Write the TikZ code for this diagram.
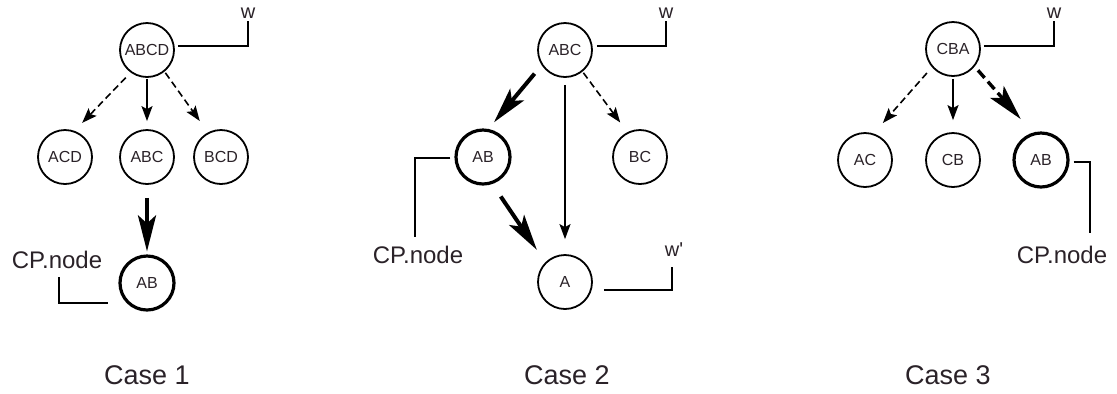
\documentclass[tikz,border=0pt]{standalone}
\usepackage{fontspec}
\setmainfont{Liberation Sans}
\usetikzlibrary{arrows.meta,positioning,calc}
\definecolor{ink}{HTML}{2A2228}

\begin{document}
\begin{tikzpicture}[x=0.5pt,y=-0.5pt,
    >=Stealth,
    vtx/.style={circle,draw,line width=0.9pt,minimum size=27pt,inner sep=0pt,font=\fontsize{8}{9}\selectfont,text=ink},
    vtxb/.style={vtx,line width=1.6pt},
    lbl/.style={inner sep=1pt,text=ink,font=\fontsize{12}{14}\selectfont},
    wlbl/.style={inner sep=1pt,text=ink,font=\fontsize{10}{12}\selectfont},
    caselbl/.style={inner sep=1pt,text=ink,font=\fontsize{13.5}{16}\selectfont},
    arr/.style={-{Stealth[length=7.5pt,width=5.5pt,inset=1.5pt]},line width=0.8pt},
    dasharr/.style={arr,dash pattern=on 3.5pt off 2pt},
    bigarr/.style={-{Stealth[length=18pt,width=9pt,inset=4pt]},line width=2pt},
    bigdash/.style={bigarr,line width=1.7pt,dash pattern=on 5pt off 2.5pt},
    lead/.style={line width=0.8pt}]
  \useasboundingbox (0,0) rectangle (1117,393);

  % case 1
  \node[vtx] (c1root) at (147,50) {ABCD};
  \node[vtx] (c1acd) at (65,157) {ACD};
  \node[vtx] (c1abc) at (147,157) {ABC};
  \node[vtx] (c1bcd) at (221,157) {BCD};
  \node[vtxb] (c1ab) at (147,283) {AB};
  \node[wlbl] (w1) at (248,13) {w};
  \node[lbl] (cp1) at (57,260) {CP.node};
  \node[caselbl] (case1) at (147,375) {Case 1};
  \draw[dasharr,shorten <=3.5pt,shorten >=5.5pt] (c1root.234) -- (c1acd.70);
  \draw[arr,shorten <=0.5pt,shorten >=4pt] (c1root) -- (c1abc);
  \draw[dasharr,shorten <=0.7pt,shorten >=7pt] (c1root.309) -- (c1bcd.118);
  \draw[bigarr,shorten <=6.5pt,shorten >=1.5pt] (c1abc) -- (c1ab);
  \draw[lead] ([shift={(1.5pt,2pt)}]c1root.east) -| (w1.south);
  \draw[lead] ([shift={(1pt,-3pt)}]cp1.south) |- ([shift={(-19.5pt,-10pt)}]c1ab.center);

  % case 2
  \node[vtx] (c2root) at (565,50) {ABC};
  \node[vtxb] (c2ab) at (483,157) {AB};
  \node[vtx] (c2bc) at (640,157) {BC};
  \node[vtx] (c2a) at (565,282) {A};
  \node[wlbl] (w2) at (666,13) {w};
  \node[wlbl] (w2p) at (674,250) {w\textquotesingle};
  \node[lbl] (cp2) at (418,255) {CP.node};
  \node[caselbl] (case2) at (567,375) {Case 2};
  \draw[bigarr,shorten <=5.5pt,shorten >=4.3pt] (c2root.213) -- (c2ab.79);
  \draw[bigarr,shorten <=7.5pt,shorten >=7.5pt] (c2ab.289) -- (c2a.135);
  \draw[arr,shorten <=3.5pt,shorten >=7.5pt] (c2root) -- (c2a);
  \draw[dasharr,shorten <=0.7pt,shorten >=6pt] (c2root.309) -- (c2bc.117);
  \draw[lead] ([shift={(2pt,2pt)}]c2root.east) -| (w2.south);
  \draw[lead] ([shift={(5.5pt,-4pt)}]c2a.east) -| ([shift={(-1pt,-4pt)}]w2p.south);
  \draw[lead] ([xshift=-2pt,yshift=-0.5pt]c2ab.west) -| ([shift={(-1.5pt,3.25pt)}]cp2.north);

  % case 3
  \node[vtx] (c3root) at (953,49) {CBA};
  \node[vtx] (c3ac) at (865,160) {AC};
  \node[vtx] (c3cb) at (953,160) {CB};
  \node[vtxb] (c3ab) at (1041,160) {AB};
  \node[wlbl] (w3) at (1054,13) {w};
  \node[lbl] (cp3) at (1062,255) {CP.node};
  \node[caselbl] (case3) at (948,375) {Case 3};
  \draw[dasharr,shorten <=3.8pt,shorten >=7pt] (c3root.221) -- (c3ac.72);
  \draw[arr,shorten <=1pt,shorten >=6pt] (c3root) -- (c3cb);
  \draw[bigdash,shorten <=2.5pt,shorten >=9pt] (c3root.321) -- (c3ab.107);
  \draw[lead] ([shift={(1.5pt,1.5pt)}]c3root.east) -| (w3.south);
  \draw[lead] ([xshift=2pt,yshift=-1pt]c3ab.east) -| ([shift={(14pt,5.5pt)}]cp3.north);
\end{tikzpicture}
\end{document}
